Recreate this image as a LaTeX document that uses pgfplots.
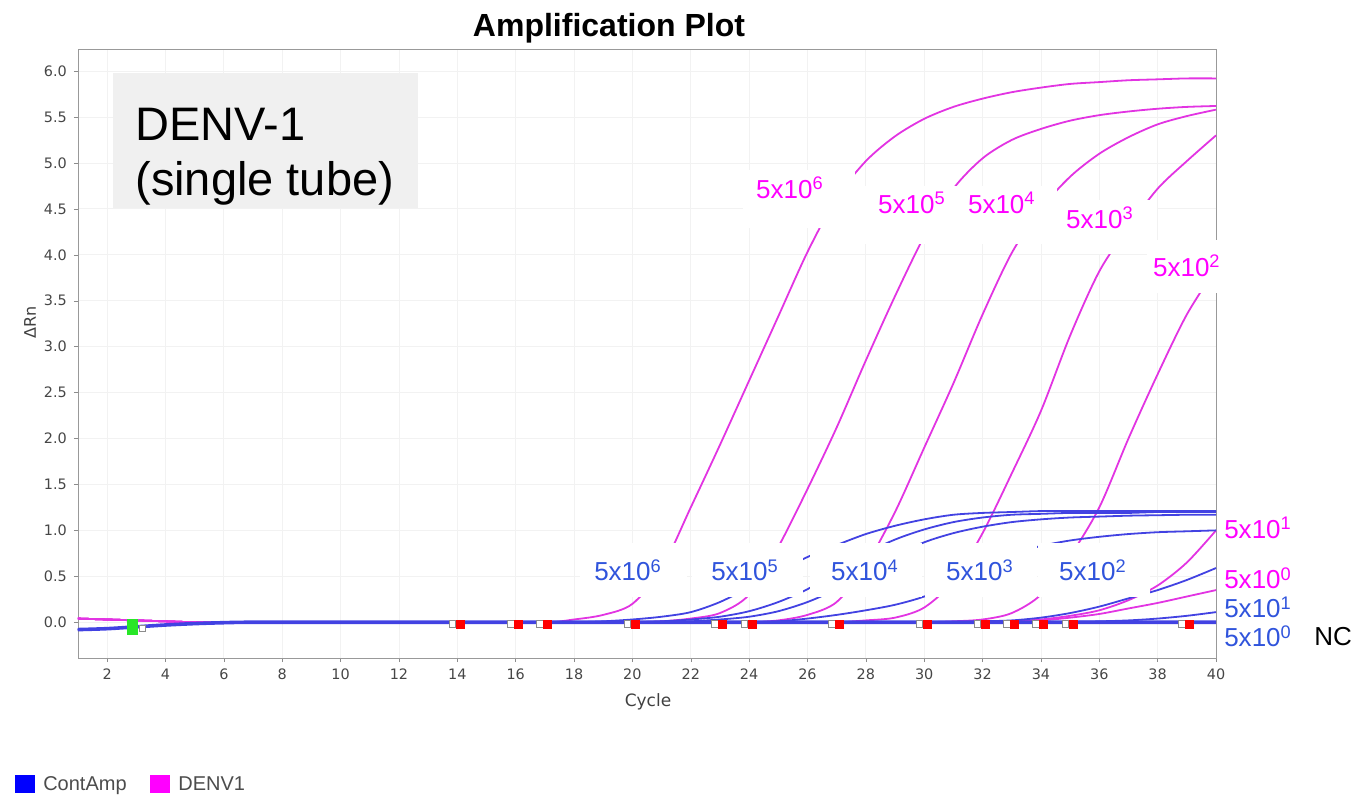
\documentclass[border=0pt]{standalone}
\usepackage{fontspec}
\setmainfont{Liberation Sans}
\newfontfamily\dejavu{DejaVu Sans}
\usepackage{pgfplots}
\usepackage{pgfplotstable}
\pgfplotsset{compat=1.18}

\definecolor{mag}{RGB}{226,52,226}
\definecolor{blu}{RGB}{66,66,226}
\definecolor{magtxt}{RGB}{255,0,255}
\definecolor{blutxt}{RGB}{48,84,220}
\definecolor{boxgray}{RGB}{240,240,240}
\definecolor{tickgray}{RGB}{70,70,70}
\definecolor{grn}{RGB}{40,230,40}

% cycle, DENV1 (magenta) and ContAmp (blue) curves per dilution
\pgfplotstableread{
c  M6   M5   M4   M3   M2   M1   M0   B6    B5    B4    B3    B2    B1    B0
1  0.04 0.04 0.04 0.04 0.04 0.04 0.04 -0.08 -0.08 -0.08 -0.08 -0.08 -0.08 -0.08
2  0.03 0.03 0.03 0.03 0.03 0.03 0.03 -0.07 -0.07 -0.07 -0.07 -0.07 -0.07 -0.07
3  0.02 0.02 0.02 0.02 0.02 0.02 0.02 -0.05 -0.05 -0.05 -0.05 -0.05 -0.05 -0.05
4  0.01 0.01 0.01 0.01 0.01 0.01 0.01 -0.03 -0.03 -0.03 -0.03 -0.03 -0.03 -0.03
5  0    0    0    0    0    0    0    -0.015 -0.015 -0.015 -0.015 -0.015 -0.015 -0.015
6  0    0    0    0    0    0    0    -0.005 -0.005 -0.005 -0.005 -0.005 -0.005 -0.005
7  0    0    0    0    0    0    0    0     0     0     0     0     0     0
10 0    0    0    0    0    0    0    0     0     0     0     0     0     0
14 0    0    0    0    0    0    0    0     0     0     0     0     0     0
17 0    0    0    0    0    0    0    0     0     0     0     0     0     0
18 0.03 0    0    0    0    0    0    0     0     0     0     0     0     0
19 0.08 0    0    0    0    0    0    0.01  0     0     0     0     0     0
20 0.20 0    0    0    0    0    0    0.03  0     0     0     0     0     0
21 0.58 0.01 0    0    0    0    0    0.06  0.01  0     0     0     0     0
22 1.25 0.04 0    0    0    0    0    0.11  0.03  0.01  0     0     0     0
23 1.93 0.10 0    0    0    0    0    0.22  0.06  0.03  0     0     0     0
24 2.63 0.30 0    0    0    0    0    0.38  0.12  0.06  0     0     0     0
25 3.33 0.82 0.02 0    0    0    0    0.55  0.22  0.12  0.01  0     0     0
26 4.03 1.45 0.08 0    0    0    0    0.71  0.36  0.22  0.04  0     0     0
27 4.62 2.12 0.22 0    0    0    0    0.84  0.55  0.36  0.08  0     0     0
28 5.02 2.85 0.62 0.02 0    0    0    0.96  0.75  0.54  0.13  0     0     0
29 5.29 3.55 1.20 0.05 0    0    0    1.05  0.90  0.72  0.19  0     0     0
30 5.48 4.20 1.90 0.16 0    0    0    1.12  1.01  0.87  0.28  0     0     0
31 5.61 4.72 2.60 0.45 0.01 0    0    1.17  1.09  0.97  0.42  0     0     0
32 5.70 5.05 3.35 0.97 0.03 0    0    1.19  1.14  1.04  0.60  0.01  0     0
33 5.77 5.25 4.02 1.62 0.10 0.01 0.01 1.20  1.17  1.09  0.74  0.02  0     0
34 5.82 5.37 4.50 2.30 0.30 0.03 0.02 1.21  1.18  1.12  0.83  0.05  0     0
35 5.86 5.46 4.85 3.12 0.72 0.07 0.05 1.21  1.19  1.14  0.89  0.10  0.005 0
36 5.88 5.52 5.10 3.82 1.25 0.13 0.09 1.21  1.19  1.15  0.93  0.17  0.01  0
37 5.90 5.56 5.28 4.30 2.00 0.24 0.15 1.21  1.19  1.16  0.96  0.26  0.02  0
38 5.91 5.59 5.42 4.72 2.70 0.40 0.21 1.21  1.20  1.165 0.98  0.35  0.04  0
39 5.92 5.61 5.51 5.02 3.35 0.65 0.28 1.21  1.20  1.17  0.99  0.46  0.07  0
40 5.92 5.62 5.58 5.30 3.85 1.00 0.35 1.21  1.20  1.17  1.00  0.59  0.11  0
}\amp

% baseline markers
\pgfplotstableread{
x y
14.1 -0.02
16.1 -0.02
17.1 -0.02
20.1 -0.02
23.1 -0.02
24.1 -0.02
27.1 -0.02
30.1 -0.02
32.1 -0.02
33.1 -0.02
34.1 -0.02
35.1 -0.02
39.1 -0.02
}\redmk
\pgfplotstableread{
x y
13.83 -0.02
15.83 -0.02
16.83 -0.02
19.83 -0.02
22.83 -0.02
23.83 -0.02
26.83 -0.02
29.83 -0.02
31.83 -0.02
32.83 -0.02
33.83 -0.02
34.83 -0.02
38.83 -0.02
3.2 -0.07
}\whitemk

\begin{document}
\begin{tikzpicture}
\begin{axis}[
    width=569pt, height=304.5pt, scale only axis,
    xmin=1, xmax=40, ymin=-0.39, ymax=6.24,
    xtick={2,4,...,40},
    ytick={0,0.5,1,1.5,2,2.5,3,3.5,4,4.5,5,5.5,6},
    yticklabel style={/pgf/number format/fixed, /pgf/number format/fixed zerofill, /pgf/number format/precision=1},
    ticklabel style={font=\dejavu\fontsize{7.2}{8}\selectfont, text=tickgray},
    /pgf/number format/assume math mode=true,
    tick align=outside, major tick length=2pt,
    xtick pos=bottom, ytick pos=left,
    tick style={black!45},
    axis line style={black!40},
    grid=major, grid style={black!5},
    xlabel={Cycle},
    xlabel style={font=\dejavu\fontsize{8.5}{10}\selectfont, text=black!75, at={(rel axis cs:0.5009,-0.0722)}, anchor=center},
    clip=false,
]
\foreach \s in {M6,M5,M4,M3,M2,M1,M0}{
  \addplot[mag, line width=0.9pt, smooth] table[x=c, y=\s] {\amp};
}
\foreach \s in {B6,B5,B4,B3,B2,B1}{
  \addplot[blu, line width=0.9pt, smooth] table[x=c, y=\s] {\amp};
}
\addplot[blu, line width=1.8pt, smooth] table[x=c, y=B0] {\amp};

\addplot[only marks, mark=square*, mark size=1.6pt, mark options={fill=white, draw=black!45, line width=0.4pt}] table {\whitemk};
\addplot[only marks, mark=square*, mark size=2pt, mark options={fill=red, draw=red}] table {\redmk};
\addplot[only marks, mark=square*, mark size=2.5pt, mark options={fill=grn, draw=grn, yscale=1.5}] coordinates {(2.88,-0.05)};

% white label boxes
\fill[white] (axis cs:18.20,0.272) rectangle (axis cs:21.87,0.860);
\fill[white] (axis cs:22.04,0.272) rectangle (axis cs:25.85,0.860);
\fill[white] (axis cs:26.09,0.272) rectangle (axis cs:29.92,0.860);
\fill[white] (axis cs:30.03,0.272) rectangle (axis cs:33.86,0.860);
\fill[white] (axis cs:33.90,0.272) rectangle (axis cs:37.74,0.860);
\fill[white] (axis cs:23.79,4.291) rectangle (axis cs:27.63,4.922);
\fill[white] (axis cs:27.63,4.116) rectangle (axis cs:30.88,4.748);
\fill[white] (axis cs:30.88,4.116) rectangle (axis cs:34.55,4.748);
\fill[white] (axis cs:34.55,4.007) rectangle (axis cs:37.98,4.595);
\fill[white] (axis cs:37.63,3.583) rectangle (axis cs:40.14,4.160);

\begin{scope}[every node/.style={font=\fontsize{13}{15}\selectfont, inner sep=0pt}]
\node[magtxt] at (axis cs:25.40,4.726) {5x10\textsuperscript{6}};
\node[magtxt] at (axis cs:29.58,4.563) {5x10\textsuperscript{5}};
\node[magtxt] at (axis cs:32.66,4.563) {5x10\textsuperscript{4}};
\node[magtxt] at (axis cs:36.02,4.400) {5x10\textsuperscript{3}};
\node[magtxt] at (axis cs:39.00,3.877) {5x10\textsuperscript{2}};
\node[blutxt] at (axis cs:19.85,0.566) {5x10\textsuperscript{6}};
\node[blutxt] at (axis cs:23.86,0.566) {5x10\textsuperscript{5}};
\node[blutxt] at (axis cs:27.97,0.566) {5x10\textsuperscript{4}};
\node[blutxt] at (axis cs:31.91,0.566) {5x10\textsuperscript{3}};
\node[blutxt] at (axis cs:35.78,0.566) {5x10\textsuperscript{2}};
\node[magtxt] at (axis cs:41.44,1.024) {5x10\textsuperscript{1}};
\node[magtxt] at (axis cs:41.44,0.479) {5x10\textsuperscript{0}};
\node[blutxt] at (axis cs:41.44,0.163) {5x10\textsuperscript{1}};
\node[blutxt] at (axis cs:41.44,-0.152) {5x10\textsuperscript{0}};
\node[black] at (axis cs:44.01,-0.152) {NC};
\end{scope}

% DENV-1 box
\fill[boxgray] (rel axis cs:0.0308,0.7389) rectangle (rel axis cs:0.2988,0.9606);
\node[anchor=base west, inner sep=0pt, font=\fontsize{23.5}{27}\selectfont] at (rel axis cs:0.0501,0.849) {DENV-1};
\node[anchor=base west, inner sep=0pt, font=\fontsize{23.5}{27}\selectfont] at (rel axis cs:0.0501,0.760) {(single tube)};

% title and y label
\node[anchor=base, inner sep=0pt, font=\bfseries\fontsize{16}{19}\selectfont] at (rel axis cs:0.4666,1.0213) {Amplification Plot};
\node[rotate=90, inner sep=0pt, font=\dejavu\fontsize{8}{9}\selectfont, text=black!75] at (rel axis cs:-0.0422,0.5517) {ΔRn};

% legend
\fill[blue] (rel axis cs:-0.0554,-0.1921) rectangle (rel axis cs:-0.0378,-0.2217);
\node[anchor=base west, inner sep=0pt, font=\fontsize{10}{12}\selectfont, text=black!70] at (rel axis cs:-0.0308,-0.2167) {ContAmp};
\fill[magtxt] (rel axis cs:0.0633,-0.1921) rectangle (rel axis cs:0.0808,-0.2217);
\node[anchor=base west, inner sep=0pt, font=\fontsize{10}{12}\selectfont, text=black!70] at (rel axis cs:0.0879,-0.2167) {DENV1};

\coordinate (bl) at (rel axis cs:-0.0685,-0.2282);
\coordinate (tr) at (rel axis cs:1.1230,1.0805);
\end{axis}
\pgfresetboundingbox
\useasboundingbox (bl) rectangle (tr);
\end{tikzpicture}
\end{document}
